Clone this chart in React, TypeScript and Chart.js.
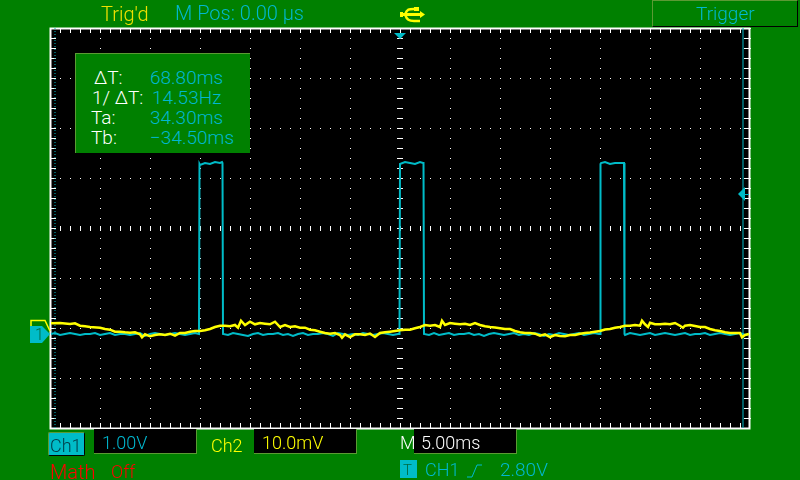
import React, { useEffect, useRef } from "react";
import { Chart, registerables } from "chart.js";

Chart.register(...registerables);

// time base: ms from the trigger point
const ch1Time = [-34.9,-34.5,-34,-33.5,-33,-32.5,-32,-31.5,-31,-30.5,-30,-29.5,-29,-28.5,-28,-27.5,-27,-26.5,-26,-25.5,-25,-24.5,-24,-23.5,-23,-22.5,-22,-21.5,-21,-20.5,-20.1,-20.05,-20,-19.5,-19,-18.5,-18,-17.8,-17.75,-17.7,-17.2,-16.7,-16.2,-15.7,-15.2,-14.7,-14.2,-13.7,-13.2,-12.7,-12.2,-11.7,-11.2,-10.7,-10.2,-9.7,-9.2,-8.7,-8.2,-7.7,-7.2,-6.7,-6.2,-5.7,-5.2,-4.7,-4.2,-3.7,-3.2,-2.7,-2.2,-1.7,-1.2,-0.7,-0.2,-0.05,0,0.05,0.5,1,1.5,2,2.3,2.35,2.4,2.9,3.4,3.9,4.4,4.9,5.4,5.9,6.4,6.9,7.4,7.9,8.4,8.9,9.4,9.9,10.4,10.9,11.4,11.9,12.4,12.9,13.4,13.9,14.4,14.9,15.4,15.9,16.4,16.9,17.4,17.9,18.4,18.9,19.4,19.9,20,20.05,20.1,20.5,21,21.5,22,22.4,22.45,22.5,23,23.5,24,24.5,25,25.5,26,26.5,27,27.5,28,28.5,29,29.5,30,30.5,31,31.5,32,32.5,33,33.5,34,34.5,34.9];
const ch1Volts = [0,0.02,-0.02,0,0.02,0,-0.02,0,0,0.02,-0.02,0,0.02,-0.02,0,0,-0.02,0,0.02,-0.04,0,0.02,0,-0.02,0,0.02,0,-0.02,0,0.02,0,3.4,3.38,3.42,3.4,3.44,3.42,3.44,3.42,0,-0.02,0.02,0,-0.02,-0.04,0,0.02,-0.02,0,0,0.02,-0.02,0,-0.04,0,0.02,-0.02,0,0,0.02,0,-0.04,0.02,0,-0.02,0,-0.02,0.02,0,-0.02,0,0.02,0,-0.02,0,0,3.4,3.4,3.44,3.42,3.4,3.44,3.42,3.42,0,-0.02,0.02,-0.02,0,0.02,-0.02,0,0,0.02,-0.02,0,-0.04,0,0.02,0,-0.02,0,0.02,-0.02,0,-0.02,0.02,0,-0.04,0,-0.02,0.02,0,-0.02,0,0.02,-0.02,0,0.02,0,0,3.4,3.42,3.44,3.4,3.42,3.42,3.42,0,-0.02,0.02,0,-0.02,0,0.02,-0.02,0,0.02,0,-0.02,0,0.02,-0.02,0,0,0.02,-0.02,0,0.02,0,-0.02,0,0.02,-0.02,0];

const ch2Time = [-34.9,-34,-33,-32.5,-32,-31.5,-31,-30,-29.5,-29,-28.5,-28,-27.5,-27,-26.5,-26,-25.8,-25.5,-25,-24.5,-24,-23.5,-23,-22.5,-22,-21.5,-21,-20.5,-20,-19.5,-19,-18.5,-18,-17.5,-17,-16.5,-16.2,-15.9,-15.5,-15,-14.5,-14,-13.5,-13,-12.5,-12,-11.5,-11,-10.5,-10,-9.5,-9,-8.5,-8,-7.5,-7,-6.5,-6,-5.8,-5.5,-5,-4.5,-4,-3.5,-3,-2.5,-2,-1.5,-1,-0.5,0,0.5,1,1.5,2,2.5,3,3.5,4,4.2,4.5,5,5.5,6,6.5,7,7.5,8,8.5,9,9.5,10,10.5,11,11.5,12,12.5,13,13.5,14,14.5,15,15.5,16,16.5,17,17.5,18,18.5,19,19.5,20,20.5,21,21.5,22,22.5,23,23.5,24,24.2,24.5,24.8,25,25.5,26,26.5,27,27.5,28,28.3,28.5,29,29.5,30,30.5,31,31.5,32,32.5,33,33.5,34,34.2,34.5,34.9];
const ch2Millivolts = [1.54,1.6,1.4,1.54,1.06,0.94,0.8,0.66,0.4,0.26,-0.14,-0.14,-0.26,-0.34,-0.26,-0.66,-1.26,-0.66,-1.06,-0.8,-0.66,-0.8,-0.54,-0.94,-0.4,-0.4,-0.14,0,0,0.14,0.4,0.8,1.06,1.06,0.94,1.2,0.66,2.06,1.2,1.86,1.34,1.6,1.46,1.34,1.86,0.8,1.2,0.8,0.94,0.66,0.66,0.26,0.14,-0.14,-0.4,-0.54,-0.4,-0.8,-1.34,-0.66,-1.2,-0.66,-0.66,-0.8,-0.5,-1.2,-0.4,-0.26,-0.14,0,0.14,0.26,0.26,0.54,0.8,1.2,1.06,1.2,0.8,2.06,1.2,1.6,1.46,1.34,1.46,1.2,1.6,1.2,0.94,0.8,0.7,0.54,0.4,0.4,0,-0.26,-0.4,-0.4,-0.54,-0.94,-0.66,-1.2,-0.8,-1,-1.06,-0.8,-0.8,-0.54,-0.4,-0.3,-0.14,0,0.3,0.4,0.66,0.8,1.06,1.06,1.2,1.06,2.06,1.34,0.8,1.66,1.34,1.34,1.46,1.34,1.6,1.06,0.66,1.06,1.2,1,0.8,0.8,0.4,0.14,0,-0.26,-0.4,-0.4,-0.4,-1.26,-0.8,-0.6];

const cursorTa = 34.3;
const cursorTb = -34.5;
const triggerLevelVolts = 2.8;

const CYAN = "#00bcc8";
const TEXT_CYAN = "#00b8d0";
const YELLOW = "#ffff00";
const GREEN = "#008000";
const EDGE = "#5c9a34";

const scopeFurniture = {
  id: "scopeFurniture",
  beforeDraw(chart: any) {
    const { ctx, chartArea: a } = chart;
    ctx.save();
    ctx.fillStyle = "#000000";
    ctx.fillRect(a.left, a.top, a.right - a.left, a.bottom - a.top);
    ctx.restore();
  },
  beforeDatasetsDraw(chart: any) {
    const { ctx, chartArea: a, scales } = chart;
    const x = scales.x;
    const d = scales.div;
    ctx.save();
    ctx.strokeStyle = "#ffffff";
    ctx.lineWidth = 1;
    ctx.beginPath();
    for (let t = -34; t < 35; t += 1) {
      const p = Math.round(x.getPixelForValue(t)) + 0.5;
      ctx.moveTo(p, a.top); ctx.lineTo(p, a.top + 5);
      ctx.moveTo(p, a.bottom - 5); ctx.lineTo(p, a.bottom);
      ctx.moveTo(p, 226); ctx.lineTo(p, 231);
    }
    for (let i = -19; i < 20; i += 1) {
      const p = Math.round(d.getPixelForValue(i / 5)) + 0.5;
      ctx.moveTo(a.left, p); ctx.lineTo(a.left + 6, p);
      ctx.moveTo(a.right - 6, p); ctx.lineTo(a.right, p);
      ctx.moveTo(397, p); ctx.lineTo(403, p);
    }
    ctx.stroke();
    ctx.lineWidth = 2;
    ctx.strokeRect(a.left + 0.5, a.top + 0.5, a.right - a.left - 1, a.bottom - a.top);
    ctx.restore();
  },
  afterDatasetsDraw(chart: any) {
    const { ctx, scales } = chart;
    const x0 = scales.x.getPixelForValue(0);
    const lvl = scales.ch1.getPixelForValue(triggerLevelVolts);
    const gnd = scales.ch1.getPixelForValue(0);
    ctx.save();
    ctx.fillStyle = CYAN;
    // trigger position marker
    ctx.beginPath();
    ctx.moveTo(x0 - 6, 33); ctx.lineTo(x0 + 6, 33); ctx.lineTo(x0, 39); ctx.closePath(); ctx.fill();
    // trigger level marker
    ctx.beginPath();
    ctx.moveTo(738, lvl); ctx.lineTo(745, lvl - 7); ctx.lineTo(745, lvl + 7); ctx.closePath(); ctx.fill();
    ctx.fillRect(745, lvl, 4, 1);
    // channel 2 ground marker
    ctx.strokeStyle = YELLOW;
    ctx.lineWidth = 1.5;
    ctx.beginPath();
    ctx.moveTo(31, 332); ctx.lineTo(31, 320.5); ctx.lineTo(45, 320.5); ctx.lineTo(50, 331);
    ctx.stroke();
    // channel 1 ground marker
    ctx.beginPath();
    ctx.moveTo(30, gnd - 8); ctx.lineTo(42, gnd - 8); ctx.lineTo(50, gnd); ctx.lineTo(42, gnd + 9); ctx.lineTo(30, gnd + 9); ctx.closePath(); ctx.fill();
    ctx.restore();
  },
};

const Label = ({ x, y, color, size = 19, children }: any) => (
  <div style={{ position: "absolute", left: x, top: y, color, fontFamily: "Roboto", fontWeight: 300, fontSize: size, lineHeight: "20px", whiteSpace: "pre" }}>{children}</div>
);

const Box = ({ x, y, w, h, style }: any) => (
  <div style={{ position: "absolute", left: x, top: y, width: w, height: h, boxSizing: "border-box", ...style }} />
);

export default function App() {
  const ref = useRef<HTMLCanvasElement>(null);
  useEffect(() => {
    const toPts = (xs: number[], ys: number[]) => xs.map((t, i) => ({ x: t, y: ys[i] }));
    const chart = new Chart(ref.current!, {
      type: "line",
      data: {
        datasets: [
          { label: "Ch2", data: toPts(ch2Time, ch2Millivolts), yAxisID: "ch2", borderColor: YELLOW, borderWidth: 2.5, pointRadius: 0, tension: 0 },
          { label: "Ch1", data: toPts(ch1Time, ch1Volts), yAxisID: "ch1", borderColor: CYAN, borderWidth: 2, pointRadius: 0, tension: 0 },
          { label: "Ta", data: [{ x: cursorTa, y: -4 }, { x: cursorTa, y: 4 }], yAxisID: "div", borderColor: CYAN, borderWidth: 1, pointRadius: 0 },
          { label: "Tb", data: [{ x: cursorTb, y: -4 }, { x: cursorTb, y: 4 }], yAxisID: "div", borderColor: CYAN, borderWidth: 1, borderDash: [1, 2], pointRadius: 0 },
        ],
      },
      options: {
        animation: false,
        responsive: false,
        devicePixelRatio: 1,
        parsing: false,
        layout: { padding: { left: 50, right: 50, top: 28, bottom: 52 } },
        plugins: { legend: { display: false }, tooltip: { enabled: false } },
        scales: {
          x: {
            type: "linear", min: -35, max: 35,
            ticks: { display: false, stepSize: 5 },
            grid: { color: "#ffffff", drawTicks: false, lineWidth: 1 },
            border: { display: false, dash: [1, 9] },
          },
          div: {
            type: "linear", min: -4, max: 4, position: "left",
            ticks: { display: false, stepSize: 1 },
            grid: { color: "#ffffff", drawTicks: false, lineWidth: 1 },
            border: { display: false, dash: [1, 9] },
          },
          ch1: { type: "linear", min: -1.88, max: 6.12, display: false },
          ch2: { type: "linear", min: -19.4, max: 60.6, display: false },
        },
      } as any,
      plugins: [scopeFurniture],
    });
    return () => chart.destroy();
  }, []);

  return (
    <div style={{ position: "fixed", left: 0, top: 0, width: 800, height: 480, overflow: "hidden", background: GREEN }}>
      <canvas ref={ref} width={800} height={480} style={{ position: "absolute", left: 0, top: 0, width: 800, height: 480 }} />

      <Label x={101} y={4} color="#f0e000" size={20}>Trig'd</Label>
      <Label x={175} y={3} color={TEXT_CYAN} size={20}>M Pos: 0.00 μs</Label>
      <svg style={{ position: "absolute", left: 400, top: 7 }} width={25} height={16} viewBox="0 0 25 16">
        <path d="M0 7.5H23" stroke={YELLOW} strokeWidth={3} />
        <path d="M20 4L25 7.5L20 11Z" fill={YELLOW} />
        <path d="M5 7.5C7 2 9 2 14 2" stroke={YELLOW} strokeWidth={2.4} fill="none" />
        <path d="M5 7.5C7 13 9 14 14 14H20" stroke={YELLOW} strokeWidth={2.4} fill="none" />
        <rect x={14} y={0} width={5} height={4} fill={YELLOW} />
        <rect x={0} y={5} width={3} height={5} fill={YELLOW} />
      </svg>
      <Box x={652} y={0} w={146} h={27} style={{ background: GREEN, borderLeft: `1px solid ${EDGE}`, borderTop: `1px solid ${EDGE}`, borderRight: "1px solid #000", borderBottom: "1px solid #000" }} />
      <Label x={696} y={4} color={TEXT_CYAN}>Trigger</Label>

      <Box x={75} y={53} w={175} h={100} style={{ background: GREEN, borderLeft: `1px solid ${EDGE}`, borderTop: `1px solid ${EDGE}` }} />
      <Label x={94} y={68} color="#ffffff">ΔT:</Label>
      <Label x={92} y={88} color="#ffffff">1/ ΔT:</Label>
      <Label x={91} y={108} color="#ffffff">Ta:</Label>
      <Label x={91} y={128} color="#ffffff">Tb:</Label>
      <Label x={150} y={68} color={TEXT_CYAN}>68.80ms</Label>
      <Label x={152} y={88} color={TEXT_CYAN}>14.53Hz</Label>
      <Label x={150} y={108} color={TEXT_CYAN}>34.30ms</Label>
      <Label x={150} y={128} color={TEXT_CYAN}>−34.50ms</Label>

      {/* ground marker numeral */}
      <Label x={35} y={325} color="#006a40" size={16}>1</Label>

      <Box x={48} y={432} w={37} h={24} style={{ background: CYAN, borderRadius: 2, borderLeft: `1px solid ${EDGE}`, borderTop: `1px solid ${EDGE}`, borderRight: "1px solid #000", borderBottom: "1px solid #000" }} />
      <Label x={50} y={436} color="#00404a" size={18}>Ch1</Label>
      <Box x={94} y={429} w={103} h={25} style={{ background: "#000", borderRight: `1px solid ${EDGE}`, borderBottom: `1px solid ${EDGE}` }} />
      <Label x={102} y={433} color={TEXT_CYAN} size={18}>1.00V</Label>
      <Label x={211} y={436} color={YELLOW} size={18}>Ch2</Label>
      <Box x={254} y={429} w={103} h={25} style={{ background: "#000", borderRight: `1px solid ${EDGE}`, borderBottom: `1px solid ${EDGE}` }} />
      <Label x={262} y={433} color={YELLOW} size={18}>10.0mV</Label>
      <Label x={400} y={433} color="#ffffff" size={18}>M</Label>
      <Box x={414} y={429} w={103} h={25} style={{ background: "#000", borderRight: `1px solid ${EDGE}`, borderBottom: `1px solid ${EDGE}` }} />
      <Label x={421} y={433} color="#ffffff" size={18}>5.00ms</Label>

      <Label x={50} y={462} color="#ff0000" size={20}>Math</Label>
      <Label x={111} y={462} color="#ff0000" size={18}>Off</Label>
      <Box x={400} y={460} w={17} h={18} style={{ background: CYAN }} />
      <Label x={403} y={460} color="#006a40" size={15}>T</Label>
      <Label x={425} y={460} color={TEXT_CYAN} size={18}>CH1</Label>
      <svg style={{ position: "absolute", left: 467, top: 464 }} width={16} height={14} viewBox="0 0 16 14">
        <path d="M0 13H5L10 1H15" stroke={TEXT_CYAN} strokeWidth={1} fill="none" />
      </svg>
      <Label x={500} y={460} color={TEXT_CYAN} size={19}>2.80V</Label>
    </div>
  );
}
